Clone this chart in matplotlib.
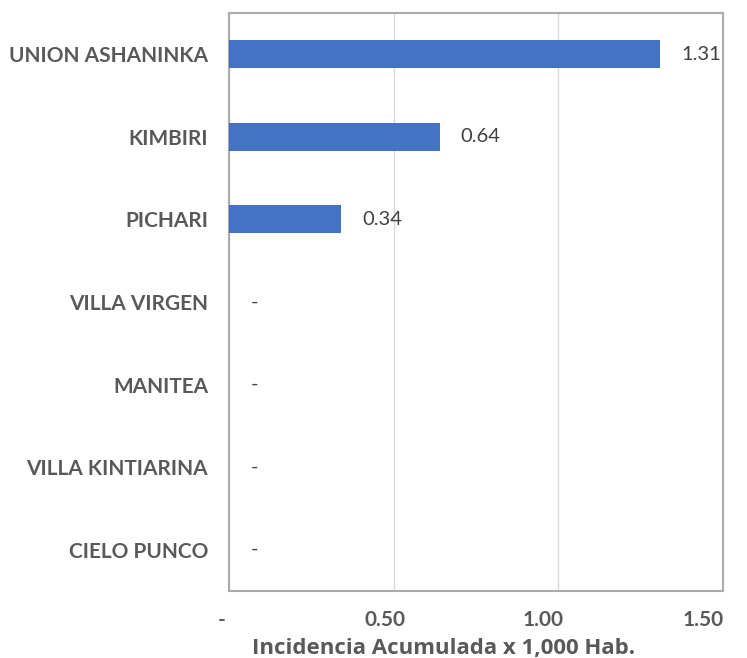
import matplotlib
matplotlib.use("Agg")
import matplotlib.pyplot as plt
from matplotlib.transforms import ScaledTranslation

categories = ["UNION ASHANINKA", "KIMBIRI", "PICHARI", "VILLA VIRGEN", "MANITEA", "VILLA KINTIARINA", "CIELO PUNCO"]
values = [1.31, 0.64, 0.34, 0.0, 0.0, 0.0, 0.0]
xticks = [0.0, 0.5, 1.0, 1.5]
xtick_labels = ["-", "0.50", "1.00", "1.50"]
xlabel = "Incidencia Acumulada x 1,000 Hab."

plt.rcParams['font.family'] = ['Lato', 'DejaVu Sans']
text_color = "#595959"

fig = plt.figure(figsize=(7.47, 6.58), dpi=100)
ax = fig.add_axes([0.3066, 0.1018, 0.6613, 0.8784])

ypos = list(range(len(categories)))
ax.barh(ypos, values, height=0.34, color="#4472C4", zorder=3)
ax.set_ylim(len(categories) - 0.5, -0.5)
ax.set_xlim(0, 1.5)

for y, v in zip(ypos, values):
    lab = f"{v:.2f}" if v > 0 else "-"
    ax.annotate(lab, xy=(v, y), xytext=(21 if v > 0 else 22, 0), textcoords="offset pixels",
                va="center", ha="left", fontsize=14.5, color="#404040", zorder=4)

ax.set_yticks(ypos)
ax.set_yticklabels(categories, fontsize=15, fontweight="bold", color=text_color)
ax.set_xticks(xticks)
ax.set_xticklabels(xtick_labels, fontsize=15, fontweight="bold", color=text_color)
ax.tick_params(axis="both", length=0)
ax.tick_params(axis="y", pad=15)
ax.tick_params(axis="x", pad=14)
shifts = [-7, -9, -15, -20]
for lbl, dx in zip(ax.get_xticklabels(), shifts):
    lbl.set_transform(lbl.get_transform() + ScaledTranslation(dx / 100, 0, fig.dpi_scale_trans))
ax.set_xlabel(xlabel, fontsize=16, fontweight="bold", color=text_color, labelpad=0,
              family=['Open Sans', 'DejaVu Sans'])
ax.xaxis.set_label_coords(0.435, -0.082)

ax.grid(axis="x", color="#D9D9D9", linewidth=1, zorder=0)
for s in ax.spines.values():
    s.set_color("#ABABAB")
    s.set_linewidth(1.5)

fig.savefig("out.png", dpi=100)
